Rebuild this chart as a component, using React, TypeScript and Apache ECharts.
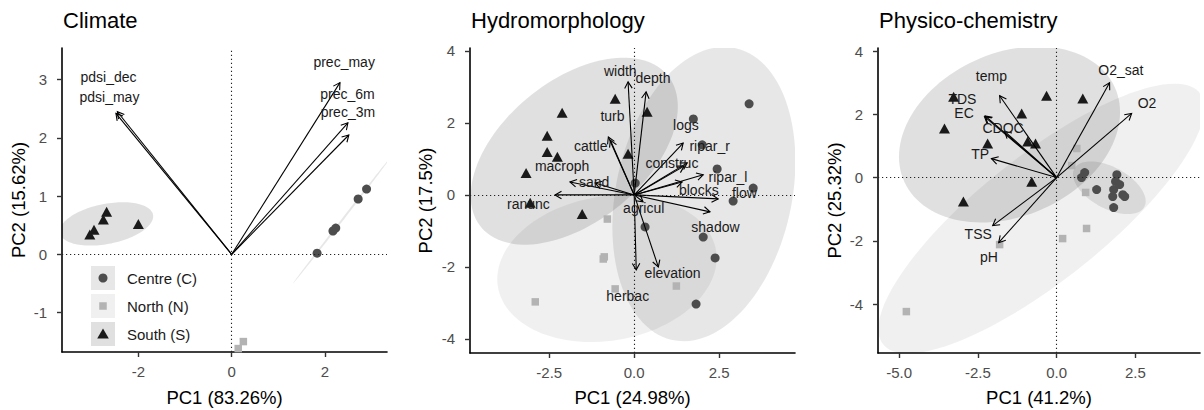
import React, { useEffect, useRef } from "react";
import * as echarts from "echarts";

type Pt = [number, number];

// ---------------- Climate ----------------
const climateCentre: Pt[] = [[1.83, 0.02], [2.17, 0.40], [2.23, 0.45], [2.71, 0.95], [2.89, 1.12]];
const climateNorth: Pt[] = [[0.25, -1.50], [0.14, -1.62]];
const climateSouth: Pt[] = [[-2.68, 0.73], [-2.75, 0.60], [-2.95, 0.42], [-3.04, 0.34], [-2.00, 0.52]];
const climateVars = ["prec_may", "prec_6m", "prec_3m", "pdsi_may", "pdsi_dec"];
const climateTips: Pt[] = [[2.32, 2.95], [2.49, 2.26], [2.51, 2.05], [-2.45, 2.45], [-2.48, 2.42]];
const climateLabelPos: Pt[] = [[2.41, 3.31], [2.48, 2.75], [2.49, 2.45], [-2.62, 2.70], [-2.64, 3.05]];
const climateXRange = [-3.636, 3.328];
const climateYRange = [-1.679, 3.545];
const climateXTicks = [-2, 0, 2];
const climateYTicks = [-1, 0, 1, 2, 3];

// ---------------- Hydromorphology ----------------
const hydroCentre: Pt[] = [[3.38, 2.53], [1.74, 2.11], [2.0, 1.39], [2.44, 0.72], [3.5, 0.19], [2.91, -0.17], [0.03, 0.33], [0.32, -0.89], [2.03, -1.17], [2.38, -1.75], [1.82, -3.03]];
const hydroNorth: Pt[] = [[-0.79, -0.67], [-0.88, -1.72], [-0.91, -1.78], [-0.56, -2.61], [1.24, -2.53], [-2.91, -2.97]];
const hydroSouth: Pt[] = [[-0.56, 2.67], [0.38, 2.31], [-2.12, 2.28], [-2.56, 1.64], [-2.56, 1.19], [-2.26, 1.06], [-0.18, 1.14], [-3.18, 0.61], [-3.06, -0.22], [-1.53, -0.53]];
const hydroVars = ["width", "depth", "turb", "logs", "cattle", "ripar_r", "construc", "ripar_l", "macroph", "sand", "blocks", "flow", "ranunc", "agricul", "shadow", "elevation", "herbac"];
const hydroTips: Pt[] = [[-0.18, 3.14], [0.35, 2.86], [-0.70, 1.52], [1.44, 1.44], [-0.76, 1.61], [1.47, 0.80], [1.56, 0.89], [2.03, 0.56], [-1.89, 0.36], [-1.15, 0.33], [1.41, 0.36], [2.47, -0.11], [-2.33, 0.0], [0.26, -0.19], [2.23, -0.47], [0.71, -2.0], [0.06, -2.08]];
const hydroLabelPos: Pt[] = [[-0.41, 3.43], [0.55, 3.24], [-0.64, 2.18], [1.52, 1.94], [-1.28, 1.37], [2.22, 1.37], [1.11, 0.88], [2.76, 0.50], [-2.12, 0.79], [-1.18, 0.36], [1.90, 0.15], [3.24, 0.06], [-3.11, -0.26], [0.28, -0.35], [2.39, -0.88], [1.13, -2.18], [-0.19, -2.82]];
const hydroXRange = [-4.83, 4.73];
const hydroYRange = [-4.39, 4.08];
const hydroXTicks = [-2.5, 0, 2.5];
const hydroYTicks = [-4, -2, 0, 2, 4];

// ---------------- Physico-chemistry ----------------
const physCentre: Pt[] = [[0.89, 0.16], [0.79, 0.0], [1.91, 0.09], [1.87, -0.12], [1.27, -0.38], [1.81, -0.38], [2.1, -0.54], [2.16, -0.6], [1.78, -0.6], [1.81, -0.95], [2.0, -0.22]];
const physNorth: Pt[] = [[0.64, 0.92], [0.48, 0.38], [0.92, -0.47], [0.19, -1.93], [0.95, -1.61], [-1.81, -2.12], [-4.77, -4.24]];
const physSouth: Pt[] = [[-3.27, 2.56], [-0.32, 2.59], [0.83, 2.50], [-1.11, 2.03], [-3.56, 1.55], [-2.19, 1.08], [-0.92, 1.14], [-0.67, 1.08], [-0.79, -0.13], [-2.96, -0.76]];
const physVars = ["temp", "TDS", "EC", "CDOC", "TP", "O2_sat", "O2", "TSS", "pH"];
const physTips: Pt[] = [[-1.81, 2.59], [-2.27, 1.95], [-2.29, 1.93], [-1.65, 1.46], [-2.07, 0.60], [1.68, 3.0], [2.38, 2.03], [-2.03, -1.52], [-1.84, -2.06]];
const physLabelPos: Pt[] = [[-2.07, 3.22], [-2.99, 2.49], [-2.94, 2.04], [-1.70, 1.56], [-2.43, 0.74], [2.04, 3.39], [2.87, 2.35], [-2.49, -1.78], [-2.15, -2.52]];
const physXRange = [-5.67, 4.55];
const physYRange = [-5.55, 4.1];
const physXTicks = [-5, -2.5, 0, 2.5];
const physYTicks = [-4, -2, 0, 2, 4];

const groupNames = ["Centre (C)", "North (N)", "South (S)"];
const titles = ["Climate", "Hydromorphology", "Physico-chemistry"];
const xTitles = ["PC1 (83.26%)", "PC1 (24.98%)", "PC1 (41.2%)"];
const yTitles = ["PC2 (15.62%)", "PC2 (17.5%)", "PC2 (25.32%)"];

const FONT = '"Liberation Sans", Arial, Helvetica, sans-serif';
const grids = [
  { left: 62, top: 48, width: 325, height: 304 },
  { left: 470, top: 48, width: 325, height: 305 },
  { left: 878, top: 48, width: 322, height: 305 },
];
const pointColors = ["#4d4d4d", "#b3b3b3", "#1a1a1a"];
const ellipseFills = ["rgba(0,0,0,0.095)", "rgba(0,0,0,0.06)", "rgba(0,0,0,0.12)"];

function ellipse(points: Pt[], n = 120): Pt[] | null {
  const k = points.length;
  if (k < 3) return null;
  let mx = 0, my = 0;
  points.forEach((p) => { mx += p[0]; my += p[1]; });
  mx /= k; my /= k;
  let sxx = 0, syy = 0, sxy = 0;
  points.forEach((p) => {
    sxx += (p[0] - mx) ** 2; syy += (p[1] - my) ** 2; sxy += (p[0] - mx) * (p[1] - my);
  });
  sxx /= k - 1; syy /= k - 1; sxy /= k - 1;
  const a = Math.sqrt(sxx);
  const b = sxy / a;
  const c = Math.sqrt(Math.max(syy - b * b, 1e-9));
  const ed = Math.sqrt(5.991464547);
  const out: Pt[] = [];
  for (let i = 0; i < n; i++) {
    const t = -Math.PI + (2 * Math.PI * i) / n;
    out.push([mx + ed * Math.cos(t) * a, my + ed * (Math.cos(t) * b + Math.sin(t) * c)]);
  }
  return out;
}

function buildPanel(p: number, groups: Pt[][], vars: string[], tips: Pt[], labels: Pt[]) {
  const series: any[] = [];
  groups.forEach((g, gi) => {
    const poly = ellipse(g);
    if (!poly) return;
    series.push({
      type: "custom", xAxisIndex: p, yAxisIndex: p, clip: true, silent: true, z: 1,
      data: [[0, 0]],
      renderItem: (_params: any, api: any) => ({
        type: "polygon",
        shape: { points: poly.map((q) => api.coord(q)) },
        style: { fill: ellipseFills[gi], stroke: "none" },
      }),
    });
  });
  series.push({
    type: "line", xAxisIndex: p, yAxisIndex: p, data: [], z: 2, silent: true,
    markLine: {
      silent: true, symbol: ["none", "none"], label: { show: false },
      lineStyle: { color: "#222", width: 1.1, type: [1.2, 2.8] },
      data: [{ xAxis: 0 }, { yAxis: 0 }],
      animation: false,
    },
  });
  const symbols = ["circle", "rect", "triangle"];
  const sizes: any[] = [9, 7.5, [11, 10]];
  groups.forEach((g, gi) => {
    series.push({
      type: "scatter", xAxisIndex: p, yAxisIndex: p, data: g, z: 3, silent: true,
      symbol: symbols[gi], symbolSize: sizes[gi],
      itemStyle: { color: pointColors[gi], opacity: 1 },
    });
  });
  series.push({
    type: "custom", xAxisIndex: p, yAxisIndex: p, silent: true, z: 4,
    data: tips,
    renderItem: (_params: any, api: any) => {
      const o = api.coord([0, 0]);
      const t = api.coord([api.value(0), api.value(1)]);
      const ang = Math.atan2(t[1] - o[1], t[0] - o[0]);
      const L = 7.5, w = Math.PI / 6;
      const h1 = [t[0] - L * Math.cos(ang - w), t[1] - L * Math.sin(ang - w)];
      const h2 = [t[0] - L * Math.cos(ang + w), t[1] - L * Math.sin(ang + w)];
      return {
        type: "group",
        children: [
          { type: "line", shape: { x1: o[0], y1: o[1], x2: t[0], y2: t[1] }, style: { stroke: "#000", lineWidth: 1.1 } },
          { type: "polyline", shape: { points: [h1, t, h2] }, style: { stroke: "#000", lineWidth: 1.1, fill: null } },
        ],
      };
    },
  });
  series.push({
    type: "custom", xAxisIndex: p, yAxisIndex: p, silent: true, z: 5,
    data: labels,
    renderItem: (params: any, api: any) => {
      const c = api.coord([api.value(0), api.value(1)]);
      return {
        type: "text", x: c[0], y: c[1],
        style: {
          text: vars[params.dataIndex], fill: "#1a1a1a", fontSize: 14, fontFamily: FONT,
          align: "center", verticalAlign: "middle",
        },
      };
    },
  });
  return series;
}

function xAxisCfg(i: number, range: number[], ticks: number[], dec: number) {
  return {
    type: "value", gridIndex: i, min: range[0], max: range[1],
    axisLine: { show: true, onZero: false, lineStyle: { color: "#000", width: 1.6 } },
    axisTick: { show: true, length: 5, customValues: ticks, lineStyle: { color: "#333", width: 1.4 } },
    axisLabel: {
      customValues: ticks, color: "#4d4d4d", fontSize: 15, fontFamily: FONT, margin: 12,
      formatter: (v: number) => v.toFixed(dec),
    },
    splitLine: { show: false },
  };
}
function yAxisCfg(i: number, range: number[], ticks: number[]) {
  return {
    type: "value", gridIndex: i, min: range[0], max: range[1],
    axisLine: { show: true, onZero: false, lineStyle: { color: "#000", width: 1.6 } },
    axisTick: { show: true, length: 5, customValues: ticks, lineStyle: { color: "#333", width: 1.4 } },
    axisLabel: {
      customValues: ticks, color: "#4d4d4d", fontSize: 15, fontFamily: FONT, margin: 15,
      formatter: (v: number) => v.toFixed(0),
    },
    splitLine: { show: false },
  };
}

function legendGraphic() {
  const out: any[] = [];
  const ys = [266, 294, 322];
  ys.forEach((y, i) => {
    out.push({ type: "rect", shape: { x: 91, y, width: 24, height: 24 }, style: { fill: ellipseFills[i] }, silent: true });
    const cx = 103, cy = y + 12;
    if (i === 0) out.push({ type: "circle", shape: { cx, cy, r: 4.5 }, style: { fill: pointColors[0] }, silent: true });
    if (i === 1) out.push({ type: "rect", shape: { x: cx - 3.75, y: cy - 3.75, width: 7.5, height: 7.5 }, style: { fill: pointColors[1] }, silent: true });
    if (i === 2) out.push({ type: "polygon", shape: { points: [[cx, cy - 5.5], [cx + 5.8, cy + 4.5], [cx - 5.8, cy + 4.5]] }, style: { fill: pointColors[2] }, silent: true });
    out.push({
      type: "text", x: 127, y: cy, silent: true,
      style: { text: groupNames[i], fill: "#1a1a1a", fontSize: 15, fontFamily: FONT, align: "left", verticalAlign: "middle" },
    });
  });
  return out;
}

export default function App() {
  const ref = useRef<HTMLDivElement>(null);
  useEffect(() => {
    if (!ref.current) return;
    const chart = echarts.init(ref.current, undefined, { renderer: "svg" });
    const graphic: any[] = [];
    grids.forEach((g, i) => {
      graphic.push({
        type: "text", x: g.left + 1, y: 20, silent: true,
        style: { text: titles[i], fill: "#000", fontSize: 22, fontFamily: FONT, align: "left", verticalAlign: "middle" },
      });
      graphic.push({
        type: "text", x: g.left + g.width / 2, y: 397, silent: true,
        style: { text: xTitles[i], fill: "#000", fontSize: 18.5, fontFamily: FONT, align: "center", verticalAlign: "middle" },
      });
    });
    const yx = [18, 425, 834];
    grids.forEach((g, i) => {
      graphic.push({
        type: "text", x: yx[i], y: g.top + g.height / 2, rotation: Math.PI / 2, silent: true,
        style: { text: yTitles[i], fill: "#000", fontSize: 18.5, fontFamily: FONT, align: "center", verticalAlign: "middle" },
      });
    });
    graphic.push(...legendGraphic());

    const option: any = {
      animation: false,
      backgroundColor: "#fff",
      grid: grids,
      xAxis: [
        xAxisCfg(0, climateXRange, climateXTicks, 0),
        xAxisCfg(1, hydroXRange, hydroXTicks, 1),
        xAxisCfg(2, physXRange, physXTicks, 1),
      ],
      yAxis: [
        yAxisCfg(0, climateYRange, climateYTicks),
        yAxisCfg(1, hydroYRange, hydroYTicks),
        yAxisCfg(2, physYRange, physYTicks),
      ],
      series: [
        ...buildPanel(0, [climateCentre, climateNorth, climateSouth], climateVars, climateTips, climateLabelPos),
        ...buildPanel(1, [hydroCentre, hydroNorth, hydroSouth], hydroVars, hydroTips, hydroLabelPos),
        ...buildPanel(2, [physCentre, physNorth, physSouth], physVars, physTips, physLabelPos),
      ],
      graphic,
    };
    chart.setOption(option);
    return () => chart.dispose();
  }, []);
  return <div ref={ref} style={{ position: "fixed", left: 0, top: 0, width: 1204, height: 410 }} />;
}
